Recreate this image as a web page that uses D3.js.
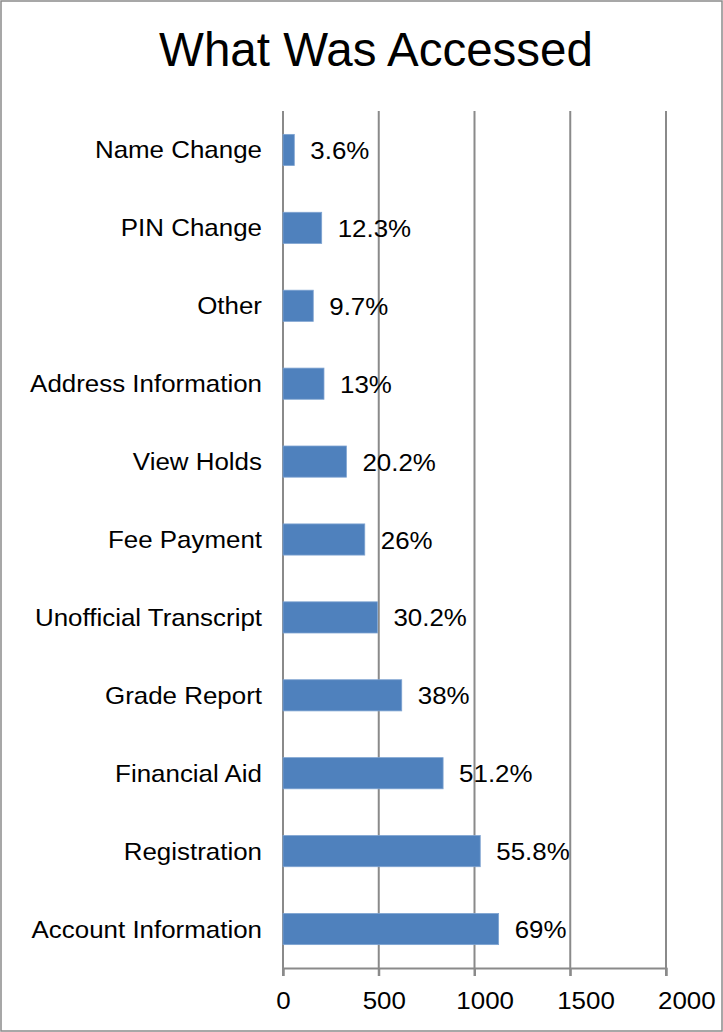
<!DOCTYPE html>
<html>
<head>
<meta charset="utf-8">
<script src="https://cdn.jsdelivr.net/npm/d3@7"></script>
<style>
  body { margin: 0; background: #fff; }
  text { font-family: "Liberation Sans", Arial, sans-serif; fill: #000; }
</style>
</head>
<body>
<div id="chart"></div>
<script>
// categories top to bottom, as shown
let categories = ['Name Change', 'PIN Change', 'Other', 'Address Information', 'View Holds',
  'Fee Payment', 'Unofficial Transcript', 'Grade Report', 'Financial Aid', 'Registration',
  'Account Information']

let counts = [59, 202, 158, 214, 331, 427, 493, 620, 836, 1030, 1126]

let percentLabels = ['3.6%', '12.3%', '9.7%', '13%', '20.2%', '26%', '30.2%', '38%', '51.2%', '55.8%', '69%']

let xTicks = [0, 500, 1000, 1500, 2000]

let chartTitle = 'What Was Accessed'

let width = 723
let height = 1032
let plotLeft = 283
let plotRight = 666
let plotTop = 111
let plotBottom = 968
let stretch = 1.08
let gridColor = '#8a8a8a'
let barColor = '#4f81bd'

let rows = categories.map((c, i) => ({ name: c, value: counts[i], label: percentLabels[i] }))

const svg = d3.select('#chart')
  .append('svg')
  .attr('width', width)
  .attr('height', height)

svg.append('rect')
  .attr('x', 1).attr('y', 1)
  .attr('width', width - 2).attr('height', height - 2)
  .attr('fill', '#fff')
  .attr('stroke', gridColor)
  .attr('stroke-width', 1.5)

let x = d3.scaleLinear()
  .domain([0, 2000])
  .range([plotLeft, plotRight])

let y = d3.scaleBand()
  .domain(categories)
  .range([plotTop, plotBottom])
  .paddingInner(0.6)
  .paddingOuter(0.3)

// title
svg.append('text')
  .attr('x', 376)
  .attr('y', 66)
  .attr('text-anchor', 'middle')
  .attr('font-size', 47.5)
  .text(chartTitle)

// vertical gridlines
svg.append('g')
  .selectAll('line')
  .data(xTicks)
  .enter()
  .append('line')
  .attr('x1', d => x(d))
  .attr('x2', d => x(d))
  .attr('y1', plotTop)
  .attr('y2', plotBottom + 8)
  .attr('stroke', gridColor)
  .attr('stroke-width', 2)

// bottom axis
let xAxis = g => g.attr('transform', `translate(0,${plotBottom})`)
  .call(d3.axisBottom(x).tickValues(xTicks).tickSize(8).tickPadding(0).tickFormat(d3.format('d')))
  .call(g => g.select('.domain').attr('stroke', gridColor).attr('stroke-width', 2))
  .call(g => g.selectAll('.tick line').attr('stroke', gridColor).attr('stroke-width', 2))

let axisG = svg.append('g').call(xAxis)

axisG.selectAll('.tick text')
  .attr('font-size', 24)
  .attr('font-family', '"Liberation Sans", Arial, sans-serif')
  .attr('fill', '#000')
  .attr('dy', null)
  .attr('y', null)
  .attr('transform', d => `translate(${(x(d) - x(0)) * 0.053},41) scale(${stretch},1)`)

// bars
svg.selectAll('.bar')
  .data(rows)
  .enter()
  .append('rect')
  .attr('class', 'bar')
  .attr('x', x(0))
  .attr('y', d => y(d.name))
  .attr('width', d => x(d.value) - x(0))
  .attr('height', y.bandwidth())
  .attr('fill', barColor)
  .attr('stroke', '#7ea3d1')
  .attr('stroke-width', 0.8)

// category labels
svg.selectAll('.cat')
  .data(rows)
  .enter()
  .append('text')
  .attr('class', 'cat')
  .attr('text-anchor', 'end')
  .attr('font-size', 24)
  .attr('transform', d => `translate(${plotLeft - 21},${y(d.name) + y.bandwidth() / 2 + 8.5}) scale(${stretch},1)`)
  .text(d => d.name)

// value labels
svg.selectAll('.val')
  .data(rows)
  .enter()
  .append('text')
  .attr('class', 'val')
  .attr('text-anchor', 'start')
  .attr('font-size', 24)
  .attr('transform', d => `translate(${x(d.value) + 16},${y(d.name) + y.bandwidth() / 2 + 9}) scale(${stretch},1)`)
  .text(d => d.label)
</script>
</body>
</html>
